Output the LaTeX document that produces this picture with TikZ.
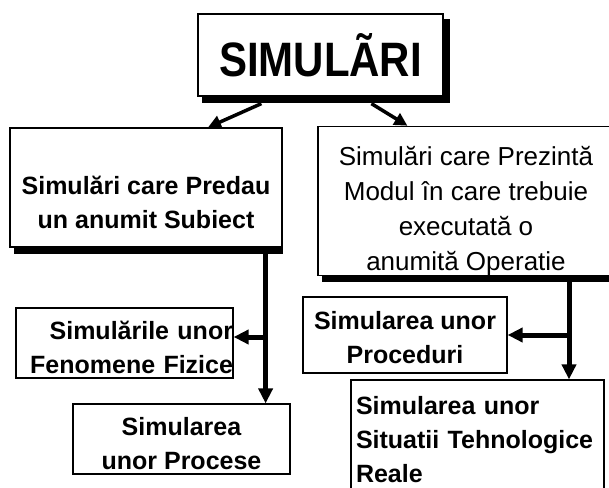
\documentclass[tikz,border=0pt]{standalone}
\usepackage{fontspec}
\setmainfont{Liberation Sans}
\usepackage{tikz}
\usetikzlibrary{arrows.meta,positioning,calc}

\newcommand{\txtdown}[1]{\rule{0pt}{#1}}

\begin{document}
\begin{tikzpicture}[
    x=1pt, y=-1pt,
    box/.style={rectangle, draw, line width=1.2pt, fill=white, align=center, inner sep=0pt, font=\bfseries\fontsize{25}{34}\selectfont},
    conn/.style={line width=5pt, -{Triangle[length=15pt,width=14pt]}},
    link/.style={line width=3.5pt, -{Triangle[length=13pt,width=13pt]}}
]
\useasboundingbox (0,0) rectangle (609,487);

\node[box, minimum width=245, minimum height=82] (title) at (320.5,55)
    {\fontsize{42}{42}\selectfont\scalebox{1}[1.15]{SIMULÃRI}};
\node[box, minimum width=272, minimum height=119] (pred) at (146,187.5)
    {\txtdown{48pt}Simulări care Predau\\un anumit Subiect};
\node[box, minimum width=296, minimum height=142, font=\fontsize{26}{35}\selectfont] (prez) at (466,201)
    {\txtdown{39pt}Simulări care Prezintă\\Modul în care trebuie\\executată o\\anumită Operatie};
\node[box, minimum width=217, minimum height=70, text width=217, align=right] (fen) at (124.5,343)
    {\txtdown{28pt}Simulările unor\\Fenomene Fizice};
\node[box, minimum width=217, minimum height=70] (proc) at (181.5,439)
    {\txtdown{28pt}Simularea\\unor Procese};
\node[box, minimum width=204, minimum height=76] (proced) at (405,335)
    {\txtdown{24pt}Simularea unor\\Proceduri};
\node[box, minimum width=253, minimum height=120, text width=243, inner xsep=5pt, align=left] (sit) at (477.5,440)
    {Simularea unor\\Situatii Tehnologice\\Reale};

% shadows
\fill ([xshift=5pt]title.south west) rectangle ([shift={(6pt,-6pt)}]title.south east);
\fill ([yshift=-6pt]title.north east) rectangle ([xshift=6pt]title.south east);
\fill ([xshift=5pt]pred.south west) rectangle ([yshift=-6pt]pred.south east);
\fill ([xshift=5pt]prez.south west) rectangle ([yshift=-6pt]prez.south east);

% arrows
\coordinate (lx) at ([shift={(-17pt,-6pt)}]pred.south east);
\coordinate (rx) at (569,278);
\draw[link] ([shift={(64pt,-7pt)}]title.south west) -- ([xshift=62pt]pred.north);
\draw[link] ([shift={(174pt,-7pt)}]title.south west) -- ([xshift=90pt]prez.north west);
\draw[conn] (lx) -- (lx |- proc.north);
\draw[conn] ($(lx |- fen.east)+(0,-6)$) -- ([yshift=6pt]fen.east);
\draw[conn] (rx) -- (rx |- sit.north);
\draw[conn] (rx |- proced.east) -- (proced.east);
\end{tikzpicture}
\end{document}
